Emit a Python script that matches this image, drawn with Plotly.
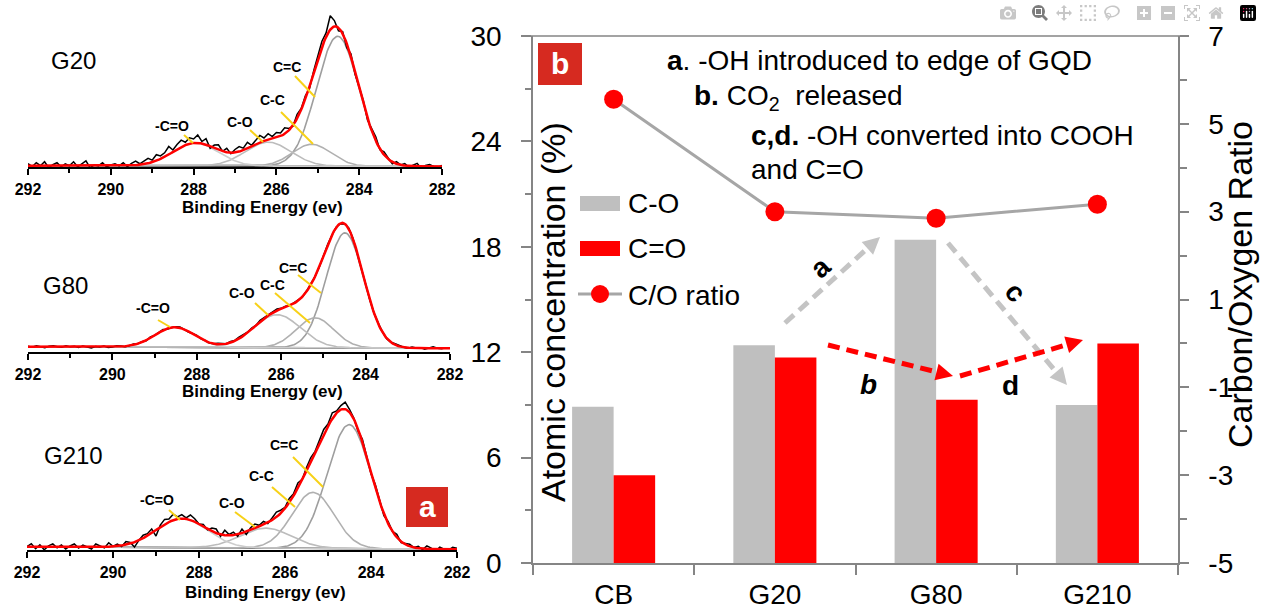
import numpy as np
import plotly.graph_objects as go

# ---------------- data: XPS C1s spectra (panel a) ----------------
# fitted components: [C=C, C-C, C-O, -C=O]
comp_names = ["C=C", "C-C", "C-O", "-C=O"]
G20_centers = [284.52, 285.15, 286.20, 287.95]
G20_heights = [130, 22, 24, 23]
G20_fwhm = [1.20, 1.10, 1.30, 1.30]
G20_baseline = [1.3, 0.5]          # background level at 292 eV, 282 eV

G80_centers = [284.49, 285.20, 286.10, 288.52]
G80_heights = [115, 30, 33, 20]
G80_fwhm = [1.05, 1.05, 1.30, 1.10]
G80_baseline = [5.3, 3.7]

G210_centers = [284.51, 285.35, 286.45, 288.40]
G210_heights = [124, 56, 20, 29]
G210_fwhm = [1.20, 1.15, 1.40, 1.40]
G210_baseline = [3.3, 0.7]

G20_resid = [2, -1, 3, 0, 4, -2, 1, 3, -1, 2, 0,
             4, -1, 2, 5, -2, 1, 0, 3, -1, 1,
             2, 0, 3, -1, 2, 4, 1, 3, 5, 2,
             6, 3, 4, 8, 2, 5, 7, 3, 6, 4,
             8, 2, 6, -2, 3, 5, 0, 4, -1, 3,
             5, 2, 6, 1, 4, 7, 3, 6, 2, 5,
             3, 6, 2, -1, 4, 1, 3, -2, 2, 4,
             6, 4, 14, 6, -3, 2, -4, 3, -2, 1,
             3, -2, 2, 4, -1, 3, 1, -2, 2, 0,
             2, -1, 1, 3, -2, 1, 2, 0, -1, 1]
G80_resid = [0.5, -0.5, 1, 0, -1, 0.5, 1, 0, -0.5, 1, 0,
             0.5, -0.5, 1, 0, -1, 0.5, 0, 1, -0.5, 0,
             1, 0.5, -0.5, 0, 1, 0, 0.5, -0.5, 1, 0,
             0.5, 1, -0.5, 0, 0.5, 1, 0, -0.5, 0.5, 1,
             0, 0.5, -0.5, 0, 1, 0.5, 0, 1, 0.5, 1.5,
             1, 0.5, 1, 0, 1.5, 1, 0.5, 1, 1.5, 0.5,
             1, 0, 0.5, 1, -0.5, 0.5, 1, 0, -0.5, 0.5,
             1, 0, 0.5, -0.5, 0, 1, 0.5, -1, 0, 0.5,
             -0.5, 0, 1, 0.5, -0.5, 0, 1, 0.5, 0, -0.5,
             1, 0, 0.5, -1, 0, 1.5, 0, -0.5, 0.5, 0]
G210_resid = [0, 3, -2, 2, -3, 1, 3, -1, 2, -2, 1,
              3, -1, 2, 0, -2, 3, 1, -1, 4, 0,
              2, -1, 3, 1, -5, 0, 3, 2, 4, -6,
              2, 5, 3, 6, 2, 4, 1, 5, 3, 0,
              2, -1, 3, 4, -2, 5, 1, 3, -2, 4,
              -3, 2, 4, 1, 3, -1, 2, 5, 3, 1,
              4, 2, 5, 0, 3, 4, 1, 3, 5, 2,
              6, 2, 4, 7, 3, 1, -2, 3, 2, -1,
              3, 1, -2, 2, 0, 3, -1, 1, 2, 0,
              2, -1, 3, 1, -2, 2, 0, -1, 2, 1]

# ---------------- data: atomic concentration (panel b) ----------------
samples = ["CB", "G20", "G80", "G210"]
c_o_conc = [8.9, 12.4, 18.4, 9.0]      # C-O  (%)
c_eq_o_conc = [5.0, 11.7, 9.3, 12.5]   # C=O  (%)
co_ratio = [5.56, 3.0, 2.85, 3.17]     # C/O ratio
ratio_ticks = [-5, -3, -1, 1, 3, 5, 7]
ratio_ticktext = ["-5", "-3", "-1", "1", "3", "5", "7"]

# ---------------- helpers ----------------
W, H = 1262, 610
def PX(x):
    return x / W
def PY(y):
    return 1 - y / H

e_data = np.round(np.arange(292.0, 281.95, -0.1), 2)
e_fine = np.round(np.arange(292.0, 281.99, -0.025), 3)

def gauss(e, c, h, fw):
    s = fw / 2.3548
    return h * np.exp(-0.5 * ((e - c) / s) ** 2)

def background(e, bl):
    return bl[0] + (bl[1] - bl[0]) * (292.0 - e) / 10.0

fig = go.Figure()

spectra = [
    ("G20", G20_centers, G20_heights, G20_fwhm, G20_baseline, G20_resid, "x", "y"),
    ("G80", G80_centers, G80_heights, G80_fwhm, G80_baseline, G80_resid, "x2", "y2"),
    ("G210", G210_centers, G210_heights, G210_fwhm, G210_baseline, G210_resid, "x3", "y3"),
]
comp_colors = ["#9e9e9e", "#b0b0b0", "#bcbcbc", "#cccccc"]

for name, cs, hs, fws, bl, res, xa, ya in spectra:
    bg_f = background(e_fine, bl)
    bg_d = background(e_data, bl)
    fit_f = bg_f.copy()
    fit_d = bg_d.copy()
    for c, h, fw in zip(cs, hs, fws):
        fit_f = fit_f + gauss(e_fine, c, h, fw)
        fit_d = fit_d + gauss(e_data, c, h, fw)
    fig.add_trace(go.Scatter(x=e_fine, y=bg_f, mode="lines", line=dict(color="black", width=1.5),
                             xaxis=xa, yaxis=ya, hoverinfo="skip"))
    for k, (c, h, fw) in enumerate(zip(cs, hs, fws)):
        fig.add_trace(go.Scatter(x=e_fine, y=bg_f + gauss(e_fine, c, h, fw), mode="lines",
                                 line=dict(color=comp_colors[k], width=1.6),
                                 name=comp_names[k], xaxis=xa, yaxis=ya))
    fig.add_trace(go.Scatter(x=e_data, y=fit_d + np.array(res, dtype=float), mode="lines",
                             line=dict(color="black", width=1.5), name=name + " data",
                             xaxis=xa, yaxis=ya))
    fig.add_trace(go.Scatter(x=e_fine, y=fit_f, mode="lines", line=dict(color="#ff0000", width=2.5),
                             name=name + " fit", xaxis=xa, yaxis=ya))

# bars + ratio
fig.add_trace(go.Bar(x=samples, y=c_o_conc, name="C-O", marker=dict(color="#bfbfbf", line=dict(width=0)),
                     xaxis="x4", yaxis="y4"))
fig.add_trace(go.Bar(x=samples, y=c_eq_o_conc, name="C=O", marker=dict(color="#ff0000", line=dict(width=0)),
                     xaxis="x4", yaxis="y4"))
fig.add_trace(go.Scatter(x=samples, y=co_ratio, name="C/O ratio", mode="lines+markers",
                         line=dict(color="#a6a6a6", width=3),
                         marker=dict(color="#ff0000", size=19),
                         xaxis="x4", yaxis="y5"))

FONT = "Liberation Sans, Arial, sans-serif"
spec_x = dict(range=[292, 282], tickmode="linear", tick0=282, dtick=2, automargin=False,
              ticks="outside", ticklen=6, tickwidth=1.5, tickcolor="black",
              minor=dict(dtick=1, ticks="outside", ticklen=4, tickcolor="black", tickwidth=1.5),
              showline=True, linecolor="black", linewidth=1.5, showgrid=False, zeroline=False,
              tickfont=dict(family=FONT, size=16, color="black", weight="bold"), ticklabelstandoff=1)
spec_y = dict(visible=False, showgrid=False, zeroline=False, automargin=False)
gray_axis = "#858585"

fig.update_layout(
    template="none",
    width=W, height=H, margin=dict(l=0, r=0, t=0, b=0, autoexpand=False),
    paper_bgcolor="white", plot_bgcolor="rgba(0,0,0,0)",
    showlegend=False, barmode="group", bargap=0.485, bargroupgap=0,
    font=dict(family=FONT, color="black"),
    xaxis=dict(domain=[PX(28), PX(442)], anchor="y", **spec_x),
    yaxis=dict(domain=[PY(167), PY(5)], range=[0, 162], anchor="x", **spec_y),
    xaxis2=dict(domain=[PX(28), PX(450)], anchor="y2", **spec_x),
    yaxis2=dict(domain=[PY(352), PY(195)], range=[0, 157], anchor="x2", **spec_y),
    xaxis3=dict(domain=[PX(27), PX(457)], anchor="y3", **spec_x),
    yaxis3=dict(domain=[PY(550), PY(395)], range=[0, 155], anchor="x3", **spec_y),
    xaxis4=dict(domain=[PX(533), PX(1178)], anchor="y4", type="category", automargin=False,
                showline=True, linecolor=gray_axis, linewidth=1.5,
                ticks="outside", tickson="boundaries", ticklen=10, tickcolor=gray_axis, tickwidth=1.5,
                tickfont=dict(size=28, color="black"), showgrid=False, ticklabelstandoff=6),
    yaxis4=dict(domain=[PY(563), PY(36)], range=[0, 30], anchor="x4", tickmode="linear", tick0=0, dtick=6,
                automargin=False, showline=True, linecolor=gray_axis, linewidth=1.5,
                ticks="outside", ticklen=10, tickcolor=gray_axis, tickwidth=1.5,
                minor=dict(tickmode="linear", tick0=0, dtick=3, ticks="outside", ticklen=6,
                           tickcolor=gray_axis, tickwidth=1.5),
                tickfont=dict(size=28, color="black"), showgrid=False, zeroline=False,
                ticklabelstandoff=14),
    yaxis5=dict(overlaying="y4", side="right", anchor="x4", range=[-5, 7],
                tickmode="array", tickvals=ratio_ticks, ticktext=ratio_ticktext,
                automargin=False, showline=True, linecolor=gray_axis, linewidth=1.5,
                ticks="outside", ticklen=9, tickcolor=gray_axis, tickwidth=1.5,
                minor=dict(tickmode="linear", tick0=-5, dtick=1, ticks="outside", ticklen=7,
                           tickcolor=gray_axis, tickwidth=1.5),
                tickfont=dict(size=28, color="black"), showgrid=False, zeroline=False,
                ticklabelstandoff=14),
)

shapes = []
annots = []

def pline(x0, y0, x1, y1, color, width, dash=None):
    d = dict(type="line", xref="paper", yref="paper", x0=PX(x0), y0=PY(y0), x1=PX(x1), y1=PY(y1),
             line=dict(color=color, width=width))
    if dash:
        d["line"]["dash"] = dash
    shapes.append(d)

def prect(x0, y0, x1, y1, color):
    shapes.append(dict(type="rect", xref="paper", yref="paper", x0=PX(x0), y0=PY(y0), x1=PX(x1), y1=PY(y1),
                       line=dict(width=0), fillcolor=color, layer="above"))

def ptext(x, y, text, size, xanchor="center", color="black", bold=False, angle=0):
    annots.append(dict(xref="paper", yref="paper", x=PX(x), y=PY(y), text=text, showarrow=False,
                       xanchor=xanchor, yanchor="middle", textangle=angle,
                       font=dict(size=size, color=color, family=FONT, weight="bold" if bold else "normal")))

def arrow(x0, y0, x1, y1, color, L=17, w=8.5):
    dx, dy = x1 - x0, y1 - y0
    n = (dx * dx + dy * dy) ** 0.5
    ux, uy = dx / n, dy / n
    bx, by = x1 - L * ux, y1 - L * uy
    pline(x0, y0, bx + 2 * ux, by + 2 * uy, color, 5, "12px,7px")
    nx, ny = -uy, ux
    pts = [(x1, y1), (bx + w * nx, by + w * ny), (bx - w * nx, by - w * ny)]
    path = "M " + " L ".join(f"{PX(a):.5f},{PY(b):.5f}" for a, b in pts) + " Z"
    shapes.append(dict(type="path", xref="paper", yref="paper", path=path,
                       fillcolor=color, line=dict(width=0)))

# ---- panel a annotations ----
YEL = "#f7d117"
ptext(73, 60, "G20", 24)
ptext(65, 285, "G80", 24)
ptext(73, 455, "G210", 24)
for (x, y) in [(262, 207), (262, 391), (265, 592)]:
    ptext(x, y, "Binding Energy (ev)", 17, bold=True)

peak_lbls = [
    ((172, 126), (184, 135), (193, 143), "-C=O"),
    ((240, 122), (250, 130), (263, 142), "C-O"),
    ((272, 100), (281, 112), (313, 144), "C-C"),
    ((287, 67), (295, 76), (315, 97), "C=C"),
    ((153, 308), (158, 320), (170, 327), "-C=O"),
    ((242, 293), (255, 303), (268, 315), "C-O"),
    ((272, 285), (275, 293), (310, 323), "C-C"),
    ((293, 268), (298, 275), (321, 293), "C=C"),
    ((157, 500), (169, 510), (180, 520), "-C=O"),
    ((232, 503), (235, 512), (255, 527), "C-O"),
    ((261, 476), (272, 487), (295, 507), "C-C"),
    ((284, 445), (293, 457), (323, 487), "C=C"),
]
for (lx, ly), (ax0, ay0), (ax1, ay1), t in peak_lbls:
    ptext(lx, ly, t, 14, bold=True)
    pline(ax0, ay0, ax1, ay1, YEL, 2)

BOXRED = "#d62a20"
prect(406, 487, 448, 527, BOXRED)
ptext(427, 506, "a", 30, color="white", bold=True)

# ---- panel b annotations ----
pline(523, 36, 1188, 36, gray_axis, 1.5)
prect(538, 43, 582, 85, BOXRED)
ptext(560, 63, "b", 30, color="white", bold=True)

ptext(553, 312, "Atomic concentration (%)", 34, angle=-90)
ptext(1240, 285, "Carbon/Oxygen Ratio", 34, angle=-90)

ptext(665, 61, "<b>a</b>. -OH introduced to edge of GQD", 28, xanchor="left")
ptext(692, 97, "<b>b.</b> CO<sub>2</sub>  released", 28, xanchor="left")
ptext(749, 135, "<b>c,d.</b> -OH converted into COOH", 28, xanchor="left")
ptext(749, 169, "and C=O", 28, xanchor="left")

# legend
prect(580, 196, 620, 211, "#bfbfbf")
ptext(626, 203, "C-O", 28, xanchor="left")
prect(580, 241, 620, 256, "#ff0000")
ptext(626, 248, "C=O", 28, xanchor="left")
pline(578, 294, 622, 294, "#a6a6a6", 3)
shapes.append(dict(type="circle", xref="paper", yref="paper", x0=PX(591), y0=PY(285), x1=PX(609), y1=PY(303),
                   fillcolor="#ff0000", line=dict(width=0)))
ptext(626, 295, "C/O ratio", 28, xanchor="left")

# process arrows
ARG = "#c4c4c4"
arrow(785, 323, 880, 237, ARG)
arrow(948, 243, 1067, 385, ARG)
arrow(828, 345, 953, 376, "#ff0000")
arrow(960, 376, 1083, 340, "#ff0000")
ptext(820, 267, "<b>a</b>", 28, angle=-42)
ptext(1016, 292, "<b>c</b>", 28, angle=50)
ptext(868, 384, "<b><i>b</i></b>", 28)
ptext(1010, 385, "<b>d</b>", 28)

fig.update_layout(shapes=shapes, annotations=annots)

fig.write_html("out.html", post_script="document.body.style.margin='0';")
